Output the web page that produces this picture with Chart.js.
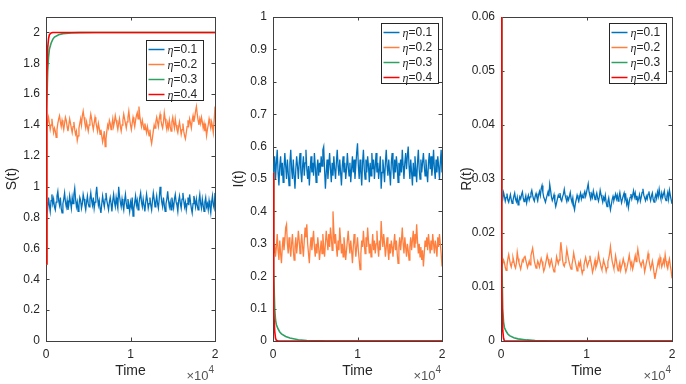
<!DOCTYPE html>
<html>
<head>
<meta charset="utf-8">
<script src="https://cdn.jsdelivr.net/npm/chart.js@4.4.1/dist/chart.umd.min.js"></script>
<style>
  html, body { margin: 0; padding: 0; background: #fff; }
  #wrap { position: relative; width: 686px; height: 384px; overflow: hidden; }
  canvas { position: absolute; top: 0; }
</style>
</head>
<body>
<div id="wrap">
  <canvas id="chartS" width="225" height="384" style="left:0px"></canvas>
  <canvas id="chartI" width="225" height="384" style="left:227px"></canvas>
  <canvas id="chartR" width="231" height="384" style="left:455px"></canvas>
</div>
<script>
// eta values shown in the legends, one per series
const etaValues = ['0.1', '0.2', '0.3', '0.4'];
const seriesColors = ['#0072BD', '#FF7F3F', '#2EA062', '#FF0000'];

// tick labels
const timeTicks = [0, 10000, 20000];
const sTicks = [0, 0.2, 0.4, 0.6, 0.8, 1, 1.2, 1.4, 1.6, 1.8, 2];
const iTicks = [0, 0.1, 0.2, 0.3, 0.4, 0.5, 0.6, 0.7, 0.8, 0.9, 1];
const rTicks = [0, 0.01, 0.02, 0.03, 0.04, 0.05, 0.06];

// sample grid for the noisy runs (eta = 0.1 and 0.2): t = 0, 100, ..., 20000
const sampleStep = 100;
const sampleTimes = Array.from({ length: 201 }, (_, k) => k * sampleStep);

// sample times for the runs that die out fast (eta = 0.3 and 0.4)
const transientTimes = [0, 50, 100, 200, 300, 400, 600, 800, 1000, 1500, 2000, 3000, 4000, 6000, 20000];

// S(t)
const sEta1 = [0.5,
  0.90, 0.86, 0.93, 0.88, 0.84, 0.91, 0.95, 0.89, 0.92, 0.87,
  0.85, 0.90, 0.94, 0.97, 0.91, 0.88, 0.93, 0.86, 0.83, 0.89,
  0.92, 0.96, 0.90, 0.87, 0.91, 0.85, 0.88, 0.94, 0.90, 0.86,
  0.93, 0.89, 0.95, 0.99, 0.92, 0.87, 0.90, 0.84, 0.88, 0.93,
  0.91, 0.86, 0.89, 0.95, 0.92, 0.88, 0.85, 0.90, 0.94, 0.89,
  0.87, 0.92, 0.96, 0.91, 0.88, 0.93, 0.86, 0.90, 0.95, 1.00,
  0.93, 0.88, 0.91, 0.86, 0.83, 0.89, 0.94, 0.90, 0.87, 0.92,
  0.96, 0.91, 0.88, 0.85, 0.90, 0.93, 0.89, 0.84, 0.91, 0.95,
  0.90, 0.87, 0.93, 0.89, 0.86, 1.00, 0.94, 0.90, 0.87, 0.92,
  0.88, 0.85, 0.91, 0.95, 0.89, 0.86, 0.92, 0.88, 0.84, 0.90,
  0.87, 0.93, 0.81, 0.86, 0.90, 0.94, 0.88, 0.91, 0.85, 0.89,
  0.93, 0.96, 0.90, 0.87, 0.92, 0.88, 0.84, 0.90, 0.95, 0.91,
  0.86, 0.89, 0.93, 0.88, 0.85, 0.91, 0.96, 0.92, 0.87, 0.90,
  0.94, 0.89, 0.86, 0.92, 1.00, 0.95, 0.90, 0.87, 0.93, 0.88,
  0.84, 0.89, 0.92, 0.97, 0.91, 0.87, 0.90, 0.85, 0.93, 0.89,
  0.86, 0.92, 0.95, 0.90, 0.88, 0.84, 0.91, 0.94, 0.89, 0.86,
  0.92, 0.96, 0.91, 0.87, 0.90, 0.85, 0.89, 0.93, 0.88, 0.95,
  0.90, 0.86, 0.83, 0.89, 0.94, 0.91, 0.87, 0.92, 0.88, 0.85,
  0.91, 0.95, 0.89, 0.86, 0.92, 0.88, 0.84, 0.90, 0.93, 0.87,
  0.89, 0.85, 0.91, 0.87, 0.83, 0.90, 0.94, 0.88, 0.86, 0.96];
const sEta2 = [0.5,
  1.38, 1.42, 1.45, 1.41, 1.37, 1.40, 1.44, 1.39, 1.35, 1.38,
  1.36, 1.32, 1.37, 1.41, 1.44, 1.46, 1.42, 1.39, 1.43, 1.40,
  1.37, 1.41, 1.45, 1.43, 1.39, 1.36, 1.40, 1.44, 1.41, 1.38,
  1.35, 1.39, 1.42, 1.37, 1.34, 1.36, 1.30, 1.33, 1.38, 1.41,
  1.44, 1.40, 1.46, 1.49, 1.45, 1.41, 1.38, 1.42, 1.39, 1.36,
  1.40, 1.43, 1.47, 1.44, 1.40, 1.37, 1.41, 1.45, 1.42, 1.39,
  1.36, 1.41, 1.38, 1.34, 1.37, 1.33, 1.29, 1.32, 1.36, 1.26,
  1.31, 1.36, 1.40, 1.38, 1.43, 1.41, 1.37, 1.40, 1.44, 1.39,
  1.42, 1.46, 1.43, 1.40, 1.37, 1.41, 1.44, 1.39, 1.36, 1.40,
  1.43, 1.47, 1.44, 1.41, 1.38, 1.42, 1.45, 1.49, 1.44, 1.40,
  1.37, 1.41, 1.45, 1.42, 1.39, 1.43, 1.46, 1.48, 1.44, 1.52,
  1.46, 1.42, 1.39, 1.43, 1.40, 1.37, 1.41, 1.38, 1.35, 1.39,
  1.36, 1.33, 1.37, 1.31, 1.28, 1.32, 1.36, 1.40, 1.38, 1.42,
  1.45, 1.42, 1.39, 1.44, 1.47, 1.43, 1.40, 1.38, 1.42, 1.48,
  1.44, 1.40, 1.37, 1.41, 1.38, 1.43, 1.39, 1.36, 1.42, 1.45,
  1.41, 1.38, 1.44, 1.40, 1.37, 1.35, 1.39, 1.42, 1.38, 1.34,
  1.37, 1.41, 1.36, 1.33, 1.31, 1.35, 1.39, 1.43, 1.40, 1.44,
  1.41, 1.38, 1.43, 1.46, 1.42, 1.45, 1.49, 1.52, 1.47, 1.43,
  1.40, 1.44, 1.41, 1.45, 1.42, 1.38, 1.41, 1.36, 1.39, 1.33,
  1.37, 1.40, 1.44, 1.41, 1.38, 1.42, 1.39, 1.35, 1.43, 1.52];
const sEta3 = [0.5, 1.1, 1.5, 1.75, 1.84, 1.89, 1.93, 1.955, 1.97, 1.985, 1.992, 1.997, 1.999, 2.0, 2.0];
const sEta4 = [0.5, 1.3, 1.7, 1.9, 1.96, 1.985, 1.997, 2.0, 2.0, 2.0, 2.0, 2.0, 2.0, 2.0, 2.0];

// I(t)
const iEta1 = [0.52,
  0.53, 0.57, 0.50, 0.55, 0.59, 0.52, 0.48, 0.54, 0.57, 0.51,
  0.55, 0.49, 0.53, 0.58, 0.54, 0.50, 0.56, 0.52, 0.48, 0.55,
  0.59, 0.53, 0.50, 0.56, 0.51, 0.47, 0.53, 0.57, 0.54, 0.50,
  0.55, 0.58, 0.52, 0.49, 0.54, 0.57, 0.51, 0.55, 0.59, 0.53,
  0.50, 0.54, 0.48, 0.53, 0.57, 0.52, 0.55, 0.51, 0.58, 0.54,
  0.49, 0.53, 0.56, 0.51, 0.55, 0.52, 0.57, 0.54, 0.59, 0.60,
  0.53, 0.47, 0.52, 0.56, 0.50, 0.54, 0.58, 0.53, 0.49, 0.55,
  0.51, 0.57, 0.53, 0.50, 0.55, 0.59, 0.54, 0.51, 0.56, 0.52,
  0.48, 0.54, 0.57, 0.52, 0.55, 0.50, 0.53, 0.58, 0.54, 0.51,
  0.55, 0.49, 0.53, 0.57, 0.52, 0.56, 0.50, 0.54, 0.58, 0.61,
  0.54, 0.50, 0.56, 0.52, 0.48, 0.55, 0.59, 0.53, 0.50, 0.56,
  0.52, 0.57, 0.54, 0.49, 0.55, 0.51, 0.58, 0.53, 0.56, 0.50,
  0.54, 0.58, 0.52, 0.55, 0.50, 0.53, 0.57, 0.47, 0.52, 0.56,
  0.53, 0.49, 0.55, 0.59, 0.54, 0.51, 0.56, 0.52, 0.48, 0.55,
  0.58, 0.53, 0.50, 0.56, 0.52, 0.57, 0.54, 0.49, 0.55, 0.51,
  0.56, 0.52, 0.59, 0.54, 0.50, 0.55, 0.58, 0.53, 0.57, 0.60,
  0.54, 0.50, 0.56, 0.52, 0.48, 0.55, 0.51, 0.57, 0.53, 0.49,
  0.55, 0.59, 0.53, 0.50, 0.56, 0.52, 0.55, 0.58, 0.54, 0.51,
  0.56, 0.52, 0.49, 0.55, 0.58, 0.53, 0.57, 0.51, 0.54, 0.59,
  0.53, 0.50, 0.56, 0.52, 0.57, 0.54, 0.50, 0.55, 0.59, 0.52];
const iEta2 = [0.52,
  0.27, 0.30, 0.26, 0.29, 0.33, 0.28, 0.25, 0.31, 0.27, 0.24,
  0.29, 0.32, 0.28, 0.31, 0.35, 0.36, 0.30, 0.27, 0.32, 0.29,
  0.26, 0.30, 0.33, 0.28, 0.25, 0.29, 0.32, 0.27, 0.30, 0.34,
  0.31, 0.27, 0.30, 0.33, 0.29, 0.26, 0.31, 0.35, 0.32, 0.36,
  0.30, 0.27, 0.24, 0.29, 0.32, 0.28, 0.31, 0.34, 0.29, 0.26,
  0.30, 0.27, 0.32, 0.29, 0.25, 0.28, 0.31, 0.27, 0.33, 0.29,
  0.26, 0.30, 0.34, 0.31, 0.28, 0.33, 0.29, 0.35, 0.32, 0.28,
  0.40, 0.34, 0.30, 0.33, 0.29, 0.26, 0.31, 0.28, 0.35, 0.31,
  0.27, 0.30, 0.26, 0.32, 0.29, 0.25, 0.28, 0.31, 0.34, 0.30,
  0.27, 0.31, 0.28, 0.24, 0.29, 0.33, 0.30, 0.26, 0.29, 0.32,
  0.28, 0.25, 0.22, 0.27, 0.31, 0.29, 0.34, 0.30, 0.27, 0.32,
  0.29, 0.35, 0.31, 0.27, 0.30, 0.26, 0.29, 0.33, 0.28, 0.31,
  0.27, 0.30, 0.34, 0.29, 0.26, 0.31, 0.28, 0.37, 0.32, 0.29,
  0.33, 0.30, 0.26, 0.29, 0.32, 0.28, 0.25, 0.30, 0.27, 0.31,
  0.29, 0.26, 0.30, 0.33, 0.28, 0.31, 0.27, 0.24, 0.29, 0.32,
  0.28, 0.31, 0.35, 0.30, 0.27, 0.32, 0.29, 0.26, 0.30, 0.28,
  0.25, 0.29, 0.32, 0.28, 0.31, 0.34, 0.29, 0.33, 0.30, 0.36,
  0.31, 0.27, 0.30, 0.26, 0.29, 0.25, 0.28, 0.23, 0.27, 0.31,
  0.29, 0.32, 0.28, 0.33, 0.30, 0.27, 0.31, 0.28, 0.33, 0.30,
  0.27, 0.31, 0.29, 0.26, 0.32, 0.29, 0.33, 0.30, 0.27, 0.23];
const iEta3 = [0.52, 0.35, 0.22, 0.10, 0.065, 0.05, 0.037, 0.028, 0.022, 0.014, 0.009, 0.004, 0.0015, 0.0003, 0];
const iEta4 = [0.52, 0.25, 0.10, 0.03, 0.008, 0.002, 0, 0, 0, 0, 0, 0, 0, 0, 0];

// R(t)
const rEta1 = [0.08,
  0.0270, 0.0263, 0.0275, 0.0268, 0.0259, 0.0266, 0.0273, 0.0261, 0.0257, 0.0264,
  0.0271, 0.0262, 0.0255, 0.0260, 0.0268, 0.0274, 0.0263, 0.0258, 0.0266, 0.0252,
  0.0259, 0.0267, 0.0263, 0.0271, 0.0276, 0.0265, 0.0258, 0.0262, 0.0269, 0.0256,
  0.0264, 0.0270, 0.0261, 0.0267, 0.0274, 0.0279, 0.0270, 0.0263, 0.0259, 0.0268,
  0.0273, 0.0266, 0.0260, 0.0271, 0.0277, 0.0269, 0.0282, 0.0288, 0.0275, 0.0266,
  0.0262, 0.0257, 0.0264, 0.0270, 0.0276, 0.0268, 0.0290, 0.0279, 0.0267, 0.0260,
  0.0265, 0.0271, 0.0258, 0.0249, 0.0256, 0.0263, 0.0270, 0.0266, 0.0274, 0.0262,
  0.0259, 0.0267, 0.0272, 0.0281, 0.0270, 0.0264, 0.0258, 0.0266, 0.0261, 0.0268,
  0.0275, 0.0263, 0.0257, 0.0265, 0.0250, 0.0243, 0.0255, 0.0262, 0.0270, 0.0264,
  0.0259, 0.0268, 0.0274, 0.0263, 0.0270, 0.0265, 0.0272, 0.0277, 0.0268, 0.0275,
  0.0283, 0.0291, 0.0276, 0.0269, 0.0263, 0.0272, 0.0266, 0.0278, 0.0270, 0.0262,
  0.0268, 0.0274, 0.0265, 0.0259, 0.0267, 0.0279, 0.0271, 0.0264, 0.0257, 0.0266,
  0.0261, 0.0270, 0.0256, 0.0249, 0.0258, 0.0265, 0.0253, 0.0243, 0.0252, 0.0262,
  0.0268, 0.0260, 0.0266, 0.0272, 0.0263, 0.0270, 0.0259, 0.0267, 0.0275, 0.0264,
  0.0256, 0.0263, 0.0269, 0.0274, 0.0262, 0.0268, 0.0253, 0.0260, 0.0247, 0.0258,
  0.0266, 0.0272, 0.0263, 0.0270, 0.0278, 0.0267, 0.0274, 0.0262, 0.0269, 0.0258,
  0.0264, 0.0271, 0.0259, 0.0266, 0.0275, 0.0282, 0.0270, 0.0265, 0.0260, 0.0268,
  0.0263, 0.0272, 0.0277, 0.0266, 0.0260, 0.0269, 0.0274, 0.0262, 0.0257, 0.0265,
  0.0271, 0.0264, 0.0276, 0.0268, 0.0281, 0.0270, 0.0263, 0.0274, 0.0266, 0.0272,
  0.0278, 0.0265, 0.0260, 0.0268, 0.0275, 0.0263, 0.0279, 0.0270, 0.0262, 0.0254];
const rEta2 = [0.08,
  0.0138, 0.0143, 0.0150, 0.0145, 0.0136, 0.0131, 0.0140, 0.0152, 0.0160, 0.0151,
  0.0142, 0.0137, 0.0146, 0.0155, 0.0148, 0.0139, 0.0135, 0.0144, 0.0164, 0.0153,
  0.0145, 0.0139, 0.0133, 0.0141, 0.0150, 0.0147, 0.0155, 0.0158, 0.0150, 0.0143,
  0.0136, 0.0142, 0.0148, 0.0141, 0.0158, 0.0165, 0.0172, 0.0160, 0.0148, 0.0141,
  0.0135, 0.0140, 0.0148, 0.0143, 0.0137, 0.0146, 0.0153, 0.0147, 0.0138, 0.0129,
  0.0134, 0.0142, 0.0150, 0.0159, 0.0152, 0.0143, 0.0138, 0.0146, 0.0151, 0.0142,
  0.0134, 0.0128, 0.0135, 0.0141, 0.0156, 0.0149, 0.0143, 0.0150, 0.0162, 0.0183,
  0.0168, 0.0150, 0.0141, 0.0138, 0.0145, 0.0155, 0.0170, 0.0160, 0.0151, 0.0144,
  0.0138, 0.0133, 0.0142, 0.0150, 0.0163, 0.0154, 0.0146, 0.0138, 0.0130, 0.0137,
  0.0145, 0.0139, 0.0147, 0.0134, 0.0125, 0.0131, 0.0140, 0.0148, 0.0155, 0.0147,
  0.0138, 0.0143, 0.0149, 0.0158, 0.0148, 0.0139, 0.0127, 0.0133, 0.0142, 0.0150,
  0.0136, 0.0141, 0.0147, 0.0161, 0.0152, 0.0145, 0.0137, 0.0132, 0.0140, 0.0150,
  0.0143, 0.0138, 0.0129, 0.0136, 0.0147, 0.0153, 0.0162, 0.0175, 0.0160, 0.0148,
  0.0141, 0.0134, 0.0143, 0.0158, 0.0149, 0.0137, 0.0130, 0.0139, 0.0146, 0.0131,
  0.0138, 0.0144, 0.0152, 0.0145, 0.0136, 0.0128, 0.0134, 0.0141, 0.0150, 0.0159,
  0.0147, 0.0138, 0.0145, 0.0133, 0.0140, 0.0150, 0.0158, 0.0147, 0.0157, 0.0170,
  0.0159, 0.0148, 0.0143, 0.0138, 0.0146, 0.0151, 0.0142, 0.0128, 0.0136, 0.0145,
  0.0152, 0.0162, 0.0150, 0.0141, 0.0133, 0.0139, 0.0148, 0.0139, 0.0126, 0.0115,
  0.0124, 0.0132, 0.0140, 0.0149, 0.0140, 0.0155, 0.0146, 0.0137, 0.0143, 0.0150,
  0.0142, 0.0160, 0.0148, 0.0139, 0.0134, 0.0145, 0.0152, 0.0140, 0.0130, 0.0116];
const rEta3 = [0.08, 0.04, 0.018, 0.006, 0.0035, 0.0025, 0.0018, 0.0013, 0.001, 0.0006, 0.0004, 0.0002, 0.0001, 0, 0];
const rEta4 = [0.08, 0.03, 0.01, 0.002, 0.0005, 0, 0, 0, 0, 0, 0, 0, 0, 0, 0];

const FONT = '"Liberation Sans", Arial, Helvetica, sans-serif';
const TEXT = '#262626';
const AXIS = '#404040';

const toPoints = (xs, ys) => ys.map((y, i) => ({ x: xs[i], y: y }));

// MATLAB style box with inward ticks on all four sides
const boxPlugin = {
  id: 'matlabBox',
  beforeDatasetsDraw(chart) {
    const { ctx, chartArea: a, scales } = chart;
    const len = 3.5;
    ctx.save();
    ctx.strokeStyle = AXIS;
    ctx.lineWidth = 1;
    ctx.beginPath();
    scales.y.ticks.forEach(t => {
      const py = Math.round(scales.y.getPixelForValue(t.value)) + 0.5;
      ctx.moveTo(a.left, py); ctx.lineTo(a.left + len, py);
      ctx.moveTo(a.right, py); ctx.lineTo(a.right - len, py);
    });
    scales.x.ticks.forEach(t => {
      const px = Math.round(scales.x.getPixelForValue(t.value)) + 0.5;
      ctx.moveTo(px, a.bottom); ctx.lineTo(px, a.bottom - len);
      ctx.moveTo(px, a.top); ctx.lineTo(px, a.top + len);
    });
    ctx.stroke();
    ctx.strokeRect(Math.round(a.left) + 0.5, Math.round(a.top) + 0.5,
      Math.round(a.right - a.left), Math.round(a.bottom - a.top));
    ctx.restore();
  },
  afterDraw(chart) {
    // x10^4 exponent label under the right end of the x axis
    const { ctx, chartArea: a } = chart;
    ctx.save();
    ctx.fillStyle = '#555';
    ctx.textBaseline = 'alphabetic';
    ctx.textAlign = 'right';
    ctx.font = '10px ' + FONT;
    ctx.fillText('4', a.right - 1, 373);
    const w4 = ctx.measureText('4').width;
    ctx.font = '13px ' + FONT;
    ctx.fillText('\u00d710', a.right - 1 - w4, 380);
    ctx.restore();
  }
};

// legend box drawn inside the plot area
const legendPlugin = {
  id: 'innerLegend',
  afterDatasetsDraw(chart, args, opts) {
    const { ctx, chartArea: a } = chart;
    const w = 57, h = 60, rowH = 15, lineLen = 16;
    const x0 = Math.round(a.right - opts.right - w) + 0.5;
    const y0 = Math.round(a.top + opts.top) + 0.5;
    ctx.save();
    ctx.fillStyle = '#fff';
    ctx.fillRect(x0, y0, w, h);
    ctx.strokeStyle = TEXT;
    ctx.lineWidth = 1;
    ctx.strokeRect(x0, y0, w, h);
    chart.data.datasets.forEach((ds, i) => {
      const cy = y0 + 9 + i * rowH;
      ctx.strokeStyle = ds.borderColor;
      ctx.lineWidth = 1.5;
      ctx.beginPath();
      ctx.moveTo(x0 + 2, cy);
      ctx.lineTo(x0 + 2 + lineLen, cy);
      ctx.stroke();
      ctx.fillStyle = TEXT;
      ctx.textBaseline = 'middle';
      ctx.textAlign = 'left';
      let tx = x0 + lineLen + 5;
      ctx.font = 'italic 12px "Liberation Serif", "Times New Roman", serif';
      ctx.fillText('\u03b7', tx, cy + 1);
      tx += ctx.measureText('\u03b7').width;
      ctx.font = '12px ' + FONT;
      ctx.fillText('=' + ds.label, tx, cy);
    });
    ctx.restore();
  }
};

function makePanel(id, title, yMax, yTicks, series, legendPos, padRight) {
  const datasets = series.map((s, i) => ({
    label: etaValues[i],
    data: toPoints(s.times, s.values),
    borderColor: seriesColors[i],
    borderWidth: i < 2 ? 1.3 : 1.6,
    pointRadius: 0,
    tension: 0,
    order: series.length - i   // red drawn last, on top
  }));

  return new Chart(document.getElementById(id), {
    type: 'line',
    data: { datasets: datasets },
    options: {
      responsive: false,
      animation: false,
      devicePixelRatio: 1,
      layout: { padding: { left: 0, right: padRight, top: 17, bottom: 0 } },
      plugins: {
        legend: { display: false },
        tooltip: { enabled: false },
        innerLegend: legendPos
      },
      scales: {
        x: {
          type: 'linear',
          min: 0,
          max: 20000,
          afterBuildTicks: s => { s.ticks = timeTicks.map(v => ({ value: v })); },
          afterFit: s => { s.height = 43; },
          grid: { display: false, drawTicks: false },
          border: { display: false },
          ticks: {
            padding: 6,
            maxRotation: 0,
            color: TEXT,
            font: { family: FONT, size: 12 },
            callback: v => String(v / 10000)
          },
          title: {
            display: true,
            text: 'Time',
            color: TEXT,
            font: { family: FONT, size: 14 },
            padding: { top: 0, bottom: 4 }
          }
        },
        y: {
          min: 0,
          max: yMax,
          afterBuildTicks: s => { s.ticks = yTicks.map(v => ({ value: v })); },
          afterFit: s => { s.width = 46; },
          grid: { display: false, drawTicks: false },
          border: { display: false },
          ticks: {
            padding: 6,
            color: TEXT,
            font: { family: FONT, size: 12 },
            callback: v => String(+v.toFixed(4))
          },
          title: {
            display: true,
            text: title,
            color: TEXT,
            font: { family: FONT, size: 14 },
            padding: { top: 4, bottom: 0 }
          }
        }
      }
    },
    plugins: [boxPlugin, legendPlugin]
  });
}

makePanel('chartS', 'S(t)', 2.1, sTicks, [
  { times: sampleTimes, values: sEta1 },
  { times: sampleTimes, values: sEta2 },
  { times: transientTimes, values: sEta3 },
  { times: transientTimes, values: sEta4 }
], { right: 12, top: 23 }, 10);

makePanel('chartI', 'I(t)', 1, iTicks, [
  { times: sampleTimes, values: iEta1 },
  { times: sampleTimes, values: iEta2 },
  { times: transientTimes, values: iEta3 },
  { times: transientTimes, values: iEta4 }
], { right: 4, top: 6 }, 10);

makePanel('chartR', 'R(t)', 0.06, rTicks, [
  { times: sampleTimes, values: rEta1 },
  { times: sampleTimes, values: rEta2 },
  { times: transientTimes, values: rEta3 },
  { times: transientTimes, values: rEta4 }
], { right: 6, top: 6 }, 14);
</script>
</body>
</html>
